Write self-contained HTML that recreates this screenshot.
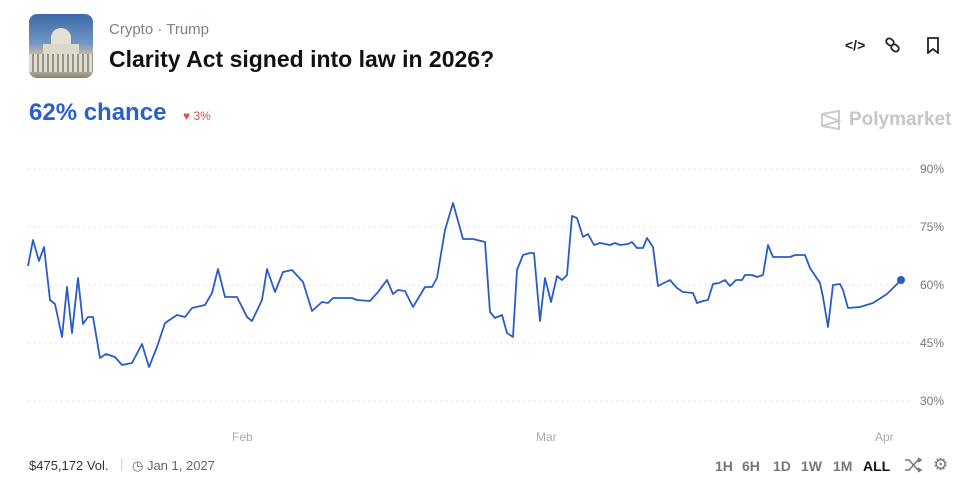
<!DOCTYPE html>
<html><head><meta charset="utf-8"><style>
body{margin:0;width:976px;height:489px;background:#fff;font-family:"Liberation Sans",sans-serif;position:relative;overflow:hidden}
.a{position:absolute;white-space:nowrap}
.b{position:absolute;top:458px;font-size:14px;color:#777;font-weight:bold}
</style></head><body>
<div class="a" style="left:29px;top:14px;width:64px;height:64px;border-radius:8px;overflow:hidden;background:linear-gradient(#3d6aa6 0%,#6f95c4 45%,#b7b3a6 60%,#d6d0c2 80%,#8a8270 100%)">
<div style="position:absolute;left:22px;top:14px;width:20px;height:18px;border-radius:10px 10px 0 0;background:#e4e0d6"></div>
<div style="position:absolute;left:14px;top:30px;width:36px;height:10px;background:#ddd8cc"></div>
<div style="position:absolute;left:0;top:40px;width:64px;height:18px;background:repeating-linear-gradient(90deg,#e0dbd0 0 3px,#9a9283 3px 5px)"></div>
</div>
<div class="a" style="left:109px;top:21px;font-size:15px;color:#7b8088">Crypto · Trump</div>
<div class="a" style="left:109px;top:46px;font-size:23px;color:#111;font-weight:bold">Clarity Act signed into law in 2026?</div>
<div class="a" style="left:845px;top:37px;font-size:14px;color:#222;font-weight:bold">&lt;/&gt;</div>
<svg class="a" style="left:885px;top:37px" width="16" height="16" viewBox="0 0 16 16" fill="none" stroke="#222" stroke-width="1.8"><rect x="1" y="2" width="8" height="6" rx="3" transform="rotate(40 5 5)"/><rect x="6" y="8" width="8" height="6" rx="3" transform="rotate(40 10 11)"/></svg>
<svg class="a" style="left:926px;top:37px" width="14" height="17" viewBox="0 0 14 17" fill="none" stroke="#222" stroke-width="1.8"><path d="M2 1h10v15l-5-4-5 4z"/></svg>
<div class="a" style="left:29px;top:99px;font-size:24px;color:#2a5fd0;font-weight:bold">62% chance</div>
<div class="a" style="left:183px;top:109px;font-size:12px;color:#d9534f">♥ 3%</div>
<svg class="a" style="left:820px;top:109px" width="22" height="22" viewBox="0 0 22 22" fill="none" stroke="#c9cbcf" stroke-width="2"><path d="M2 5l17-3v18l-17-3z M2 5l17 7-17 5"/></svg>
<div class="a" style="left:849px;top:109px;font-size:19px;color:#c4c6ca;font-weight:bold">Polymarket</div>
<svg class="a" style="left:0;top:0" width="976" height="489">
<g stroke="#d8dade" stroke-dasharray="1.5 4" stroke-width="1">
<line x1="28" y1="169" x2="910" y2="169"/><line x1="28" y1="227" x2="910" y2="227"/><line x1="28" y1="285" x2="910" y2="285"/><line x1="28" y1="343" x2="910" y2="343"/><line x1="28" y1="401" x2="910" y2="401"/></g>
<g font-size="12" fill="#777" font-family="Liberation Sans"><text x="920" y="173">90%</text><text x="920" y="231">75%</text><text x="920" y="289">60%</text><text x="920" y="347">45%</text><text x="920" y="405">30%</text>
<text x="232" y="441" fill="#aaa">Feb</text><text x="536" y="441" fill="#aaa">Mar</text><text x="875" y="441" fill="#aaa">Apr</text></g>
<polyline fill="none" stroke="#2a5cc8" stroke-width="1.8" stroke-linejoin="round" points="28,266 33,240 39,261 44,247 50,300 55,304 62,337 67,287 72,333 78,278 83,324 88,317 93,317 100,358 106,354 115,357 122,365 132,363 142,344 149,367 157,347 165,323 177,315 185,317 192,308 205,305 212,293 218,269 225,297 237,297 247,317 252,321 262,300 267,269 275,292 283,272 292,270 303,282 312,311 322,302 328,303 333,298 352,298 357,300 370,301 378,292 387,280 393,294 398,290 405,291 413,307 425,287 432,287 437,278 445,230 453,203 463,239 473,239 485,242 490,312 495,318 502,315 507,333 513,337 517,270 523,255 530,253 534,253 540,321 545,278 551,302 557,276 562,280 567,275 572,216 577,218 583,237 588,234 594,245 600,243 610,245 615,243 620,245 628,244 632,242 637,248 643,248 647,238 653,247 658,286 670,280 677,288 683,292 693,293 697,303 703,301 708,300 713,284 719,283 725,280 730,286 736,280 742,280 745,275 752,275 757,277 763,275 768,245 773,257 790,257 795,255 805,255 810,268 820,283 823,297 828,327 833,285 840,284 843,290 848,308 860,307 873,303 887,294 901,280"/>
<circle cx="901" cy="280" r="4" fill="#2a5cc8"/>
<g fill="none" stroke="#777" stroke-width="1.5"><path d="M905 460h4l9 10h3 M905 470h4l9-10h3 M918 458l3 2-3 2 M918 468l3 2-3 2"/></g>
</svg>
<div class="a" style="left:29px;top:458px;font-size:13px;color:#333">$475,172 Vol.</div>
<div class="a" style="left:120px;top:456px;font-size:13px;color:#ccc">|</div>
<div class="a" style="left:132px;top:458px;font-size:13px;color:#666">◷ Jan 1, 2027</div>
<div class="b" style="left:715px">1H</div>
<div class="b" style="left:742px">6H</div>
<div class="b" style="left:773px">1D</div>
<div class="b" style="left:801px">1W</div>
<div class="b" style="left:833px">1M</div>
<div class="b" style="left:863px;color:#111">ALL</div>
<div class="a" style="left:933px;top:455px;font-size:17px;color:#777">⚙</div>
</body></html>
